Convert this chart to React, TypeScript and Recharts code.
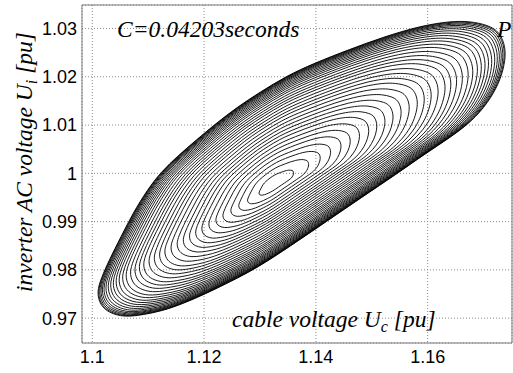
import { LineChart, Line, XAxis, YAxis, CartesianGrid, ReferenceArea } from "recharts";

// outer contour of the trajectory (the limit cycle)
const outerX = [
  1.174, 1.1729, 1.1708, 1.1676, 1.164, 1.1586, 1.152, 1.1461, 1.1397, 1.1348, 1.13, 1.1259,
  1.122, 1.1186, 1.1153, 1.1123, 1.1098, 1.1073, 1.1051, 1.103, 1.1016, 1.1008, 1.1014, 1.103,
  1.1057, 1.1091, 1.1125, 1.116, 1.1202, 1.1246, 1.1295, 1.1354, 1.142, 1.1483, 1.1545, 1.1595,
  1.1644, 1.1679, 1.1708, 1.1728, 1.1738,
];
const outerY = [
  1.026, 1.0293, 1.0307, 1.0315, 1.0315, 1.0305, 1.0282, 1.0257, 1.0228, 1.0202, 1.0168, 1.0137,
  1.0102, 1.0069, 1.0036, 1.0003, 0.9965, 0.9918, 0.9868, 0.982, 0.9783, 0.9754, 0.9727, 0.9711,
  0.9702, 0.9707, 0.9715, 0.9729, 0.975, 0.9775, 0.9804, 0.9849, 0.9901, 0.9951, 0.9999, 1.004,
  1.0077, 1.0108, 1.0146, 1.0187, 1.0226,
];
const outerCenter = [1.1364, 1.0023];
const innerCenter = [1.1325, 0.9978];

// relative size of each turn of the spiral, innermost first
const loopScales = [
  0.085, 0.15, 0.2, 0.245, 0.29, 0.33, 0.37, 0.41, 0.445, 0.48, 0.515, 0.55, 0.585, 0.62, 0.65,
  0.68, 0.71, 0.74, 0.765, 0.79, 0.815, 0.84, 0.86, 0.88, 0.897, 0.913, 0.928, 0.942, 0.955,
  0.966, 0.975, 0.983, 0.99, 0.996, 1.0,
];

const xTicks = [1.1, 1.12, 1.14, 1.16];
const yTicks = [0.97, 0.98, 0.99, 1, 1.01, 1.02, 1.03];
const xDomain = [1.09816, 1.17509];
const yDomain = [0.96486, 1.03486];

const loops = loopScales.map((s) => {
  const cx = innerCenter[0] + s * (outerCenter[0] - innerCenter[0]);
  const cy = innerCenter[1] + s * (outerCenter[1] - innerCenter[1]);
  return outerX.map((x, i) => ({
    x: cx + s * (x - outerCenter[0]),
    y: cy + s * (outerY[i] - outerCenter[1]),
  }));
});

const serif = "'Liberation Serif', 'Times New Roman', serif";
const sans = "'Liberation Sans', Arial, Helvetica, sans-serif";

export default function App() {
  return (
    <div style={{ position: "absolute", left: 0, top: 0, width: 513, height: 373, background: "#fff" }}>
      <LineChart width={513} height={373} margin={{ top: 5, right: 1, bottom: 0, left: 0 }}>
        <CartesianGrid stroke="#8a8a8a" strokeDasharray="1 2" />
        <XAxis
          type="number"
          dataKey="x"
          domain={xDomain}
          ticks={xTicks}
          allowDataOverflow
          height={30}
          axisLine={false}
          tickLine={false}
          tickSize={0}
          tickMargin={7}
          tick={{ fontSize: 18, fill: "#000", fontFamily: sans }}
        />
        <YAxis
          type="number"
          dataKey="y"
          domain={yDomain}
          ticks={yTicks}
          allowDataOverflow
          width={82}
          axisLine={false}
          tickLine={false}
          tickSize={0}
          tickMargin={5}
          tick={{ fontSize: 18, fill: "#000", fontFamily: sans }}
        />
        {loops.map((pts, i) => (
          <Line
            key={i}
            data={pts}
            dataKey="y"
            type="basisClosed"
            stroke="#000"
            strokeWidth={0.9}
            dot={false}
            activeDot={false}
            isAnimationActive={false}
          />
        ))}
        <ReferenceArea
          x1={xDomain[0]}
          x2={xDomain[1]}
          y1={yDomain[0]}
          y2={yDomain[1]}
          fill="none"
          stroke="#7a7a7a"
          strokeWidth={1}
        />
      </LineChart>
      <svg
        width={513}
        height={373}
        style={{ position: "absolute", left: 0, top: 0, pointerEvents: "none" }}
      >
        <g fontFamily={serif} fontStyle="italic" fontSize={23.5} fill="#000">
          <text x={117} y={37}>C=0.04203seconds</text>
          <text x={497} y={37}>P</text>
          <text x={232} y={327}>
            cable voltage U
            <tspan fontSize={16} dy={5}>c</tspan>
            <tspan dy={-5}> [pu]</tspan>
          </text>
          <text transform="translate(32,162) rotate(-90)" textAnchor="middle">
            inverter AC voltage U
            <tspan fontSize={16} dy={5}>i</tspan>
            <tspan dy={-5}> [pu]</tspan>
          </text>
        </g>
      </svg>
    </div>
  );
}
